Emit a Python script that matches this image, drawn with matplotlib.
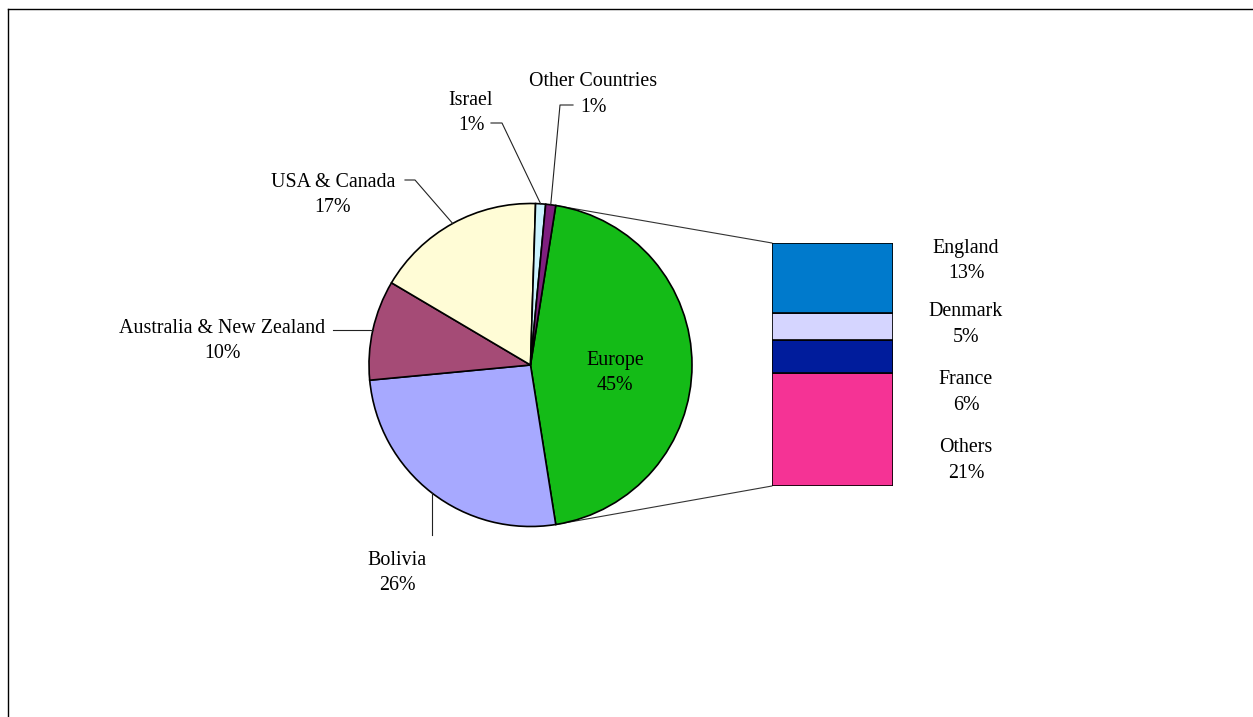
import numpy as np
import matplotlib
matplotlib.use("Agg")
import matplotlib.pyplot as plt
from matplotlib.patches import ConnectionPatch
from matplotlib.lines import Line2D

# Main pie: share of respondents by region (percent)
regions = ["Europe", "Bolivia", "Australia & New Zealand", "USA & Canada",
           "Israel", "Other Countries"]
region_pct = [45, 26, 10, 17, 1, 1]
region_colors = ["#14BB17", "#A7A9FF", "#A54B76", "#FFFCD6", "#CCF4FF", "#7E1F7E"]

# Breakdown of the Europe slice (percent of total), top to bottom
europe_parts = ["England", "Denmark", "France", "Others"]
europe_pct = [13, 5, 6, 21]
europe_colors = ["#007ACC", "#D5D5FF", "#001C9C", "#F53395"]

W, H, DPI = 1253, 717, 100
plt.rcParams["font.family"] = ["Liberation Serif", "DejaVu Serif"]
FS = 14.4

fig = plt.figure(figsize=(W / DPI, H / DPI), dpi=DPI)
fig.patch.set_facecolor("white")


def frac_box(x0, y0, x1, y1):
    """Pixel box (y measured downward) -> figure-fraction rect."""
    return [x0 / W, (H - y1) / H, (x1 - x0) / W, (y1 - y0) / H]


# Overlay axes in pixel units for frame, labels and leader lines
ov = fig.add_axes([0, 0, 1, 1], zorder=3)
ov.set_xlim(0, W)
ov.set_ylim(H, 0)
ov.axis("off")
ov.patch.set_alpha(0)

# Pie
pie_ax = fig.add_axes(frac_box(369, 203.5, 692, 526.5), zorder=1)
start = 360 * region_pct[0] / 100 / 2
wedges, _ = pie_ax.pie(region_pct, colors=region_colors, startangle=start,
                       counterclock=False, radius=1,
                       wedgeprops=dict(edgecolor="black", linewidth=1.2))
pie_ax.set_xlim(-1, 1)
pie_ax.set_ylim(-1, 1)
pie_ax.axis("off")

# Stacked bar for the Europe breakdown
bar_ax = fig.add_axes(frac_box(772, 243, 893, 486), zorder=1)
bottom = 0
for name, val, col in reversed(list(zip(europe_parts, europe_pct, europe_colors))):
    bar_ax.bar(0, val, bottom=bottom, width=1, color=col,
               edgecolor="black", linewidth=1.2)
    bottom += val
bar_ax.set_xlim(-0.5, 0.5)
bar_ax.set_ylim(0, sum(europe_pct))
bar_ax.axis("off")

# Connectors from the Europe wedge to the bar
eu = wedges[0]
for ang, corner in ((eu.theta2, (0, 1)), (eu.theta1, (0, 0))):
    p = (np.cos(np.radians(ang)), np.sin(np.radians(ang)))
    con = ConnectionPatch(xyA=p, coordsA=pie_ax.transData,
                          xyB=corner, coordsB=bar_ax.transAxes,
                          color="#333333", linewidth=0.8, zorder=0)
    fig.add_artist(con)


def pie_point(w):
    mid = np.radians((w.theta1 + w.theta2) / 2)
    disp = pie_ax.transData.transform((np.cos(mid), np.sin(mid)))
    return ov.transData.inverted().transform(disp)


def put_label(name, pct, x, y, gap=25.5, dy=2.5):
    ov.text(x, y + dy, name, ha="center", va="center", fontsize=FS)
    ov.text(x, y + dy + gap, pct, ha="center", va="center", fontsize=FS)


# Inside label for Europe
put_label(regions[0], f"{region_pct[0]}%", 615, 358)

# Outside labels with leader lines
label_pos = {
    "Bolivia": (397, 558),
    "Australia & New Zealand": (222, 326),
    "USA & Canada": (333, 180),
    "Israel": (471, 98),
    "Other Countries": (593, 79),
}
for w, name, pct in zip(wedges[1:], regions[1:], region_pct[1:]):
    x, y = label_pos[name]
    put_label(name, f"{pct}%", x, y)
    px, py = pie_point(w)
    if name == "Bolivia":
        pts = [(px, 535), (px, py)]
    elif name == "Australia & New Zealand":
        pts = [(333, py), (px, py)]
    elif name == "USA & Canada":
        pts = [(405, 180), (415, 180), (px, py)]
    elif name == "Israel":
        pts = [(491, 123), (502, 123), (px, py)]
    else:
        pts = [(573, 105), (560, 105), (px, py)]
    xs, ys = zip(*pts)
    ov.add_line(Line2D(xs, ys, color="#222222", linewidth=0.8))

# Labels beside the bar
bar_label_y = [246, 309, 377, 445]
for name, val, y in zip(europe_parts, europe_pct, bar_label_y):
    put_label(name, f"{val}%", 966, y)

# Chart frame (top and left edges)
ov.add_line(Line2D([8, W], [9, 9], color="black", linewidth=1.0))
ov.add_line(Line2D([8, 8], [9, H], color="black", linewidth=1.0))

fig.savefig("out.png", dpi=DPI, facecolor="white")
